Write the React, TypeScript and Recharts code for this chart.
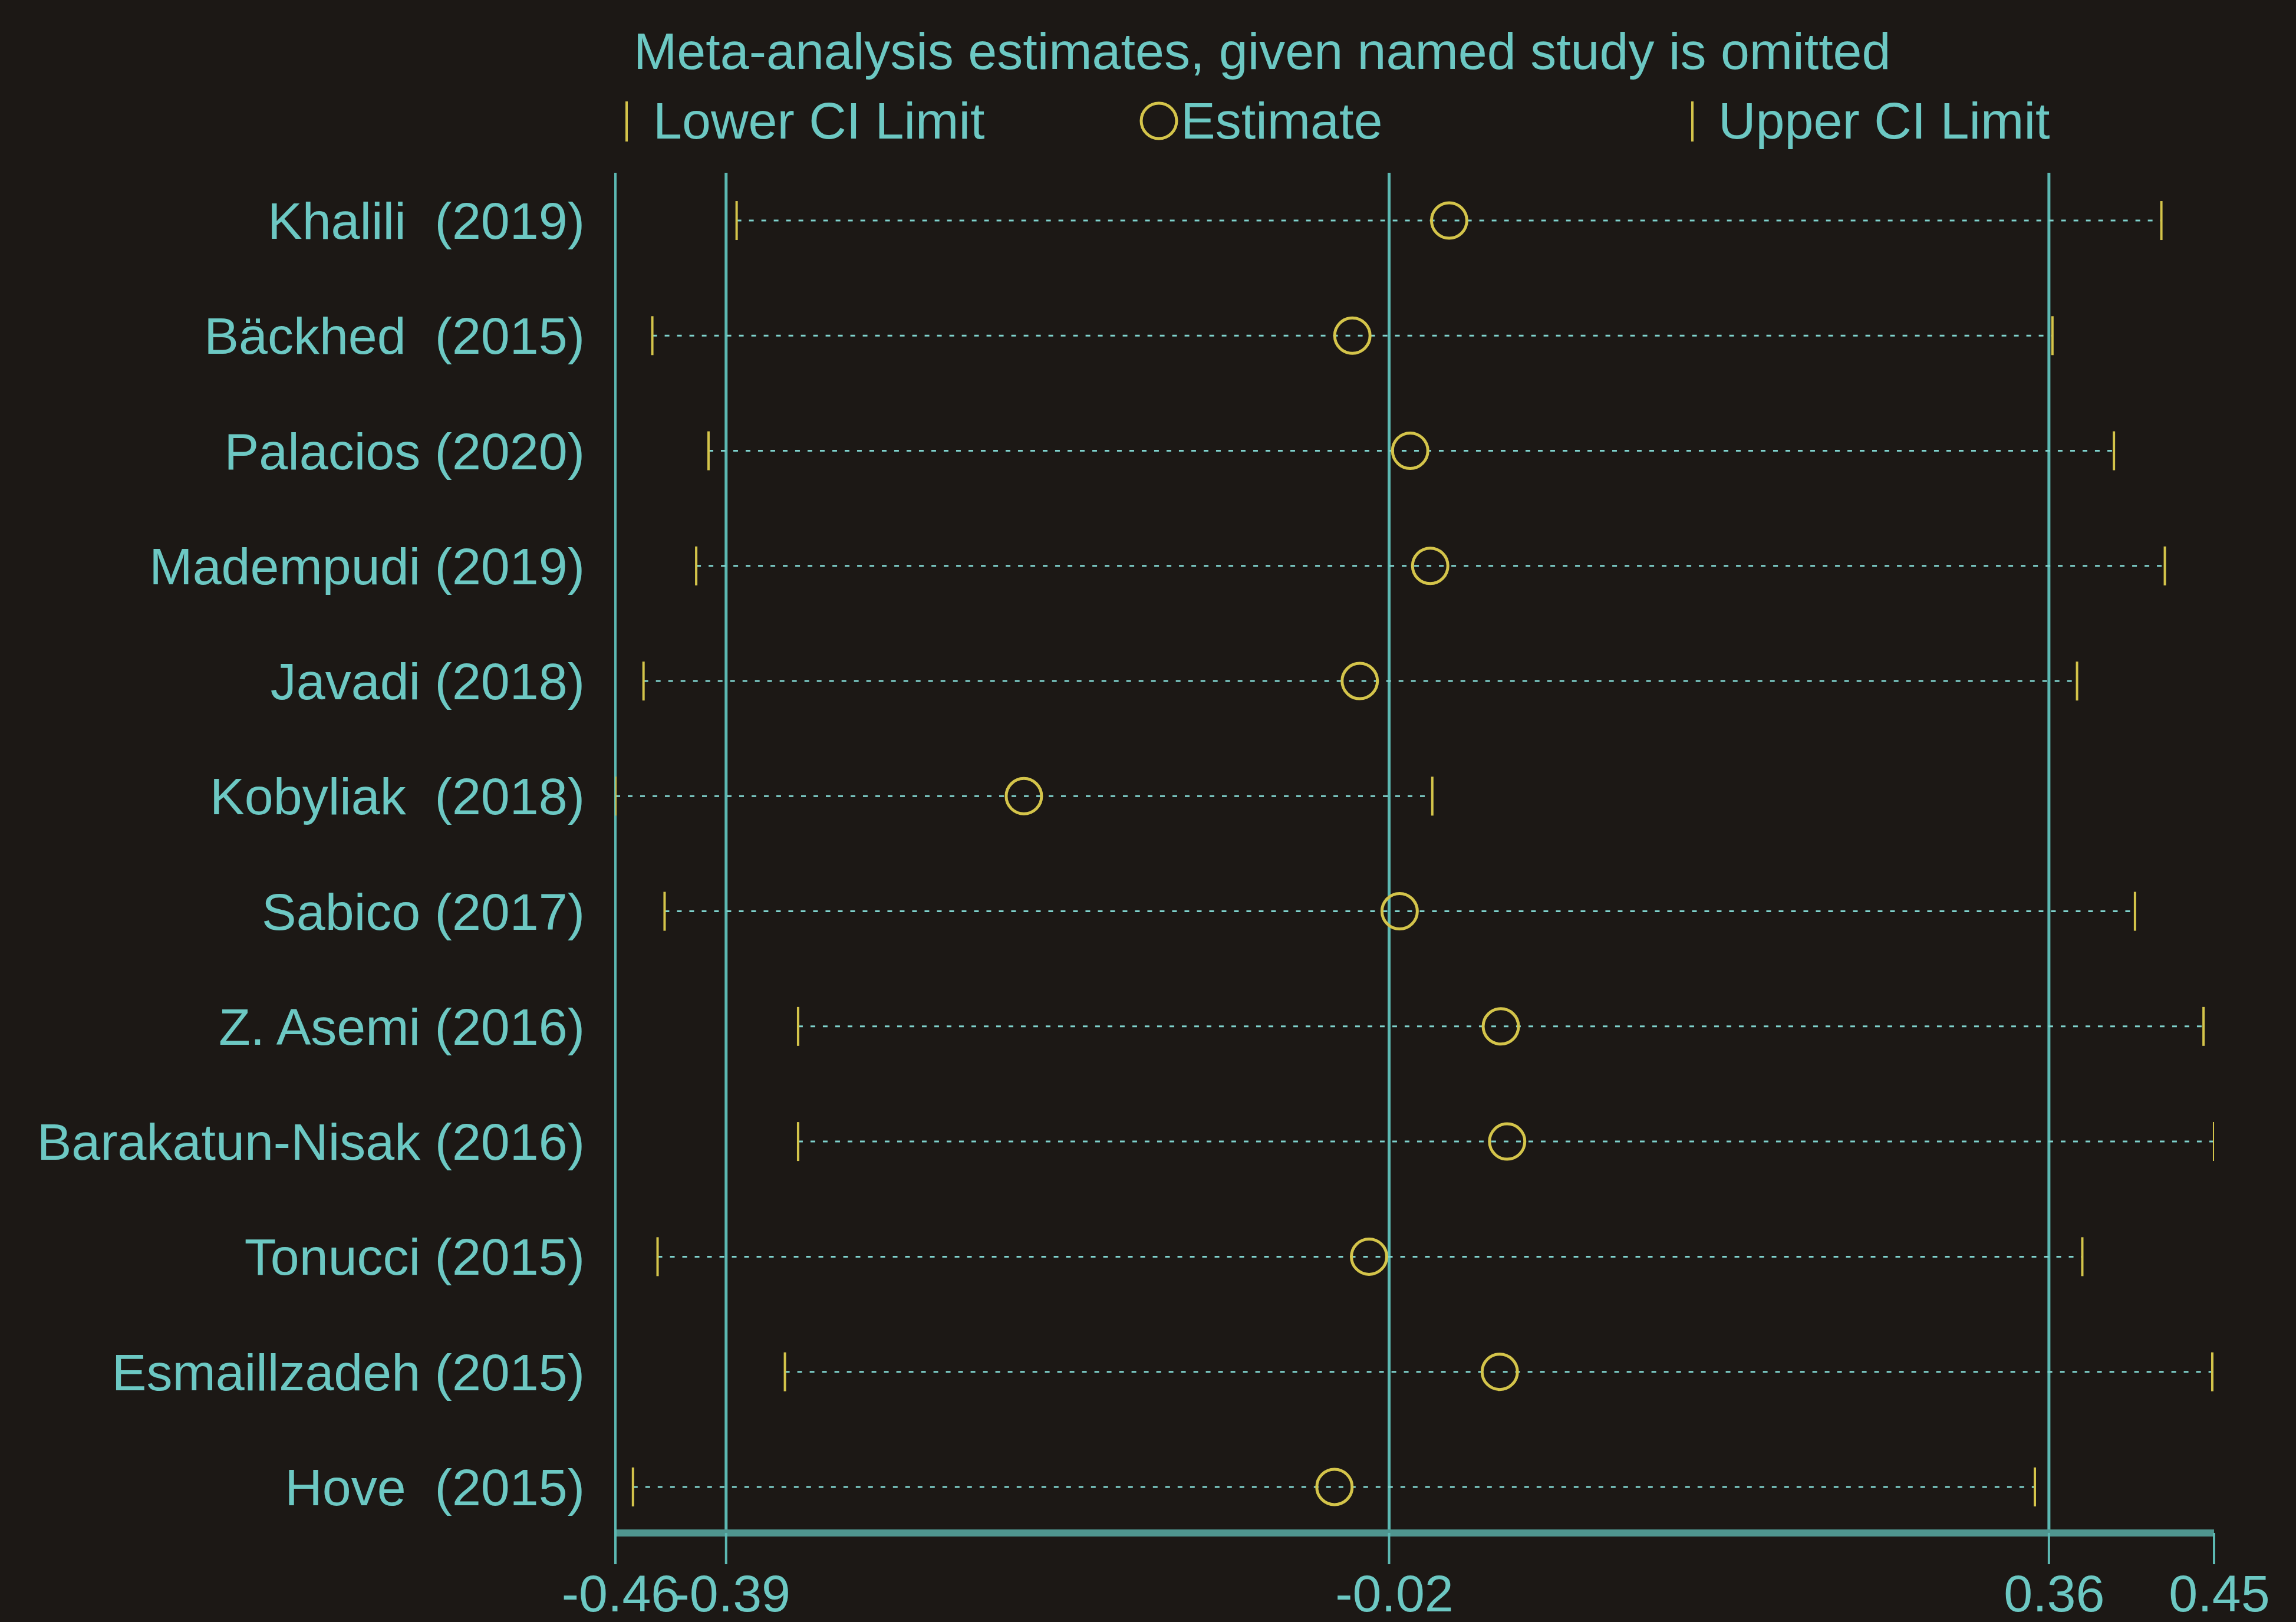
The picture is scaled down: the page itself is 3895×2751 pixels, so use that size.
import React from 'react'
import {
  ScatterChart,
  Scatter,
  XAxis,
  YAxis,
  ReferenceLine,
  Legend,
} from 'recharts'

// study labels, top to bottom (double spaces are in the original)
const STUDIES = [
  'Khalili  (2019)',
  'Bäckhed  (2015)',
  'Palacios (2020)',
  'Madempudi (2019)',
  'Javadi (2018)',
  'Kobyliak  (2018)',
  'Sabico (2017)',
  'Z. Asemi (2016)',
  'Barakatun-Nisak (2016)',
  'Tonucci (2015)',
  'Esmaillzadeh (2015)',
  'Hove  (2015)',
]

const LOWER = [-0.391, -0.439, -0.407, -0.414, -0.444, -0.46, -0.432, -0.356, -0.356, -0.436, -0.3635, -0.45]
const ESTIMATE = [0.0146, -0.0405, -0.0076, 0.0038, -0.0363, -0.2275, -0.0136, 0.044, 0.0476, -0.031, 0.0434, -0.0507]
const UPPER = [0.42, 0.358, 0.393, 0.422, 0.372, 0.005, 0.405, 0.444, 0.45, 0.375, 0.449, 0.348]

// pooled estimate with its CI (vertical lines)
const OVERALL = [-0.397, -0.0196, 0.356]

const AXIS_TICKS = [-0.46, -0.397, -0.0196, 0.356, 0.45]
const AXIS_TICK_LABELS = ['-0.46', '-0.39', '-0.02', '0.36', '0.45']

const TITLE = 'Meta-analysis estimates, given named study is omitted'
const SERIES_NAMES = ['Lower CI Limit', 'Estimate', 'Upper CI Limit']

const W = 3895
const H = 2751
const BG = '#1c1815'
const TEAL = '#6cc8c3'
const LINE = '#5cb8b2'
const YELLOW = '#d4c44a'
const FONT = '"Liberation Sans", Arial, sans-serif'
const FS = 88

const lowerData = LOWER.map((x, i) => ({ x, y: i }))
const estData = ESTIMATE.map((x, i) => ({ x, y: i }))
const upperData = UPPER.map((x, i) => ({ x, y: i }))

const CapShape = (props: any) => {
  const { cx, cy } = props
  return <line x1={cx} x2={cx} y1={cy - 33} y2={cy + 33} stroke={YELLOW} strokeWidth={4} />
}

const CircleShape = (props: any) => {
  const { cx, cy } = props
  return <circle cx={cx} cy={cy} r={30} fill="none" stroke={YELLOW} strokeWidth={5} />
}

const StudyTick = (props: any) => {
  const { x, y, payload } = props
  return (
    <text
      x={x}
      y={y}
      dy={31}
      textAnchor="end"
      fill={TEAL}
      fontSize={FS}
      fontFamily={FONT}
      xmlSpace="preserve"
      style={{ whiteSpace: 'pre' }}
    >
      {STUDIES[payload.value]}
    </text>
  )
}

const ValueTick = (props: any) => {
  const { x, y, payload, index } = props
  const i = AXIS_TICKS.indexOf(payload.value)
  return (
    <text x={x} y={y} dx={9} dy={63} textAnchor="middle" fill={TEAL} fontSize={FS} fontFamily={FONT}>
      {AXIS_TICK_LABELS[i >= 0 ? i : index]}
    </text>
  )
}

const renderLegend = () => (
  <svg width={W} height={260} style={{ display: 'block' }}>
    <text x={1075} y={117} fill={TEAL} fontSize={FS} fontFamily={FONT}>
      {TITLE}
    </text>
    <line x1={1063} x2={1063} y1={172} y2={240} stroke={YELLOW} strokeWidth={4} />
    <text x={1108} y={235} fill={TEAL} fontSize={FS} fontFamily={FONT}>
      {SERIES_NAMES[0]}
    </text>
    <circle cx={1966} cy={205} r={30} fill="none" stroke={YELLOW} strokeWidth={5} />
    <text x={2003} y={235} fill={TEAL} fontSize={FS} fontFamily={FONT}>
      {SERIES_NAMES[1]}
    </text>
    <line x1={2871} x2={2871} y1={172} y2={240} stroke={YELLOW} strokeWidth={4} />
    <text x={2915} y={235} fill={TEAL} fontSize={FS} fontFamily={FONT}>
      {SERIES_NAMES[2]}
    </text>
  </svg>
)

export default function App() {
  return (
    <div style={{ position: 'absolute', left: 0, top: 0, width: W, height: H, background: BG, overflow: 'hidden' }}>
      <ScatterChart width={W} height={H} margin={{ top: 33, right: 139, bottom: 0, left: 0 }}>
        <XAxis
          type="number"
          dataKey="x"
          domain={[-0.46, 0.45]}
          allowDataOverflow
          ticks={AXIS_TICKS}
          interval={0}
          height={151}
          axisLine={{ stroke: '#4f958f', strokeWidth: 12 }}
          tickLine={{ stroke: LINE, strokeWidth: 4 }}
          tickSize={53}
          tickMargin={17}
          tick={<ValueTick />}
        />
        <YAxis
          type="number"
          dataKey="y"
          domain={[-0.415, 11.4]}
          reversed
          allowDataOverflow
          ticks={STUDIES.map((_, i) => i)}
          interval={0}
          width={1044}
          axisLine={{ stroke: LINE, strokeWidth: 4 }}
          tickLine={false}
          tickSize={0}
          tickMargin={52}
          tick={<StudyTick />}
        />
        <Legend
          verticalAlign="top"
          align="left"
          height={260}
          wrapperStyle={{ top: 0, left: 0, width: W, height: 260 }}
          content={renderLegend}
        />
        {OVERALL.map((v, i) => (
          <ReferenceLine key={`ov-${i}`} x={v} stroke={LINE} strokeWidth={5} ifOverflow="visible" />
        ))}
        {STUDIES.map((_, i) => (
          <ReferenceLine
            key={`seg-${i}`}
            segment={[
              { x: LOWER[i], y: i },
              { x: UPPER[i], y: i },
            ]}
            stroke="#7fd2cd"
            strokeWidth={3}
            strokeDasharray="8 13"
            ifOverflow="visible"
          />
        ))}
        <Scatter name={SERIES_NAMES[0]} data={lowerData} shape={<CapShape />} isAnimationActive={false} />
        <Scatter name={SERIES_NAMES[1]} data={estData} shape={<CircleShape />} isAnimationActive={false} />
        <Scatter name={SERIES_NAMES[2]} data={upperData} shape={<CapShape />} isAnimationActive={false} />
      </ScatterChart>
    </div>
  )
}
